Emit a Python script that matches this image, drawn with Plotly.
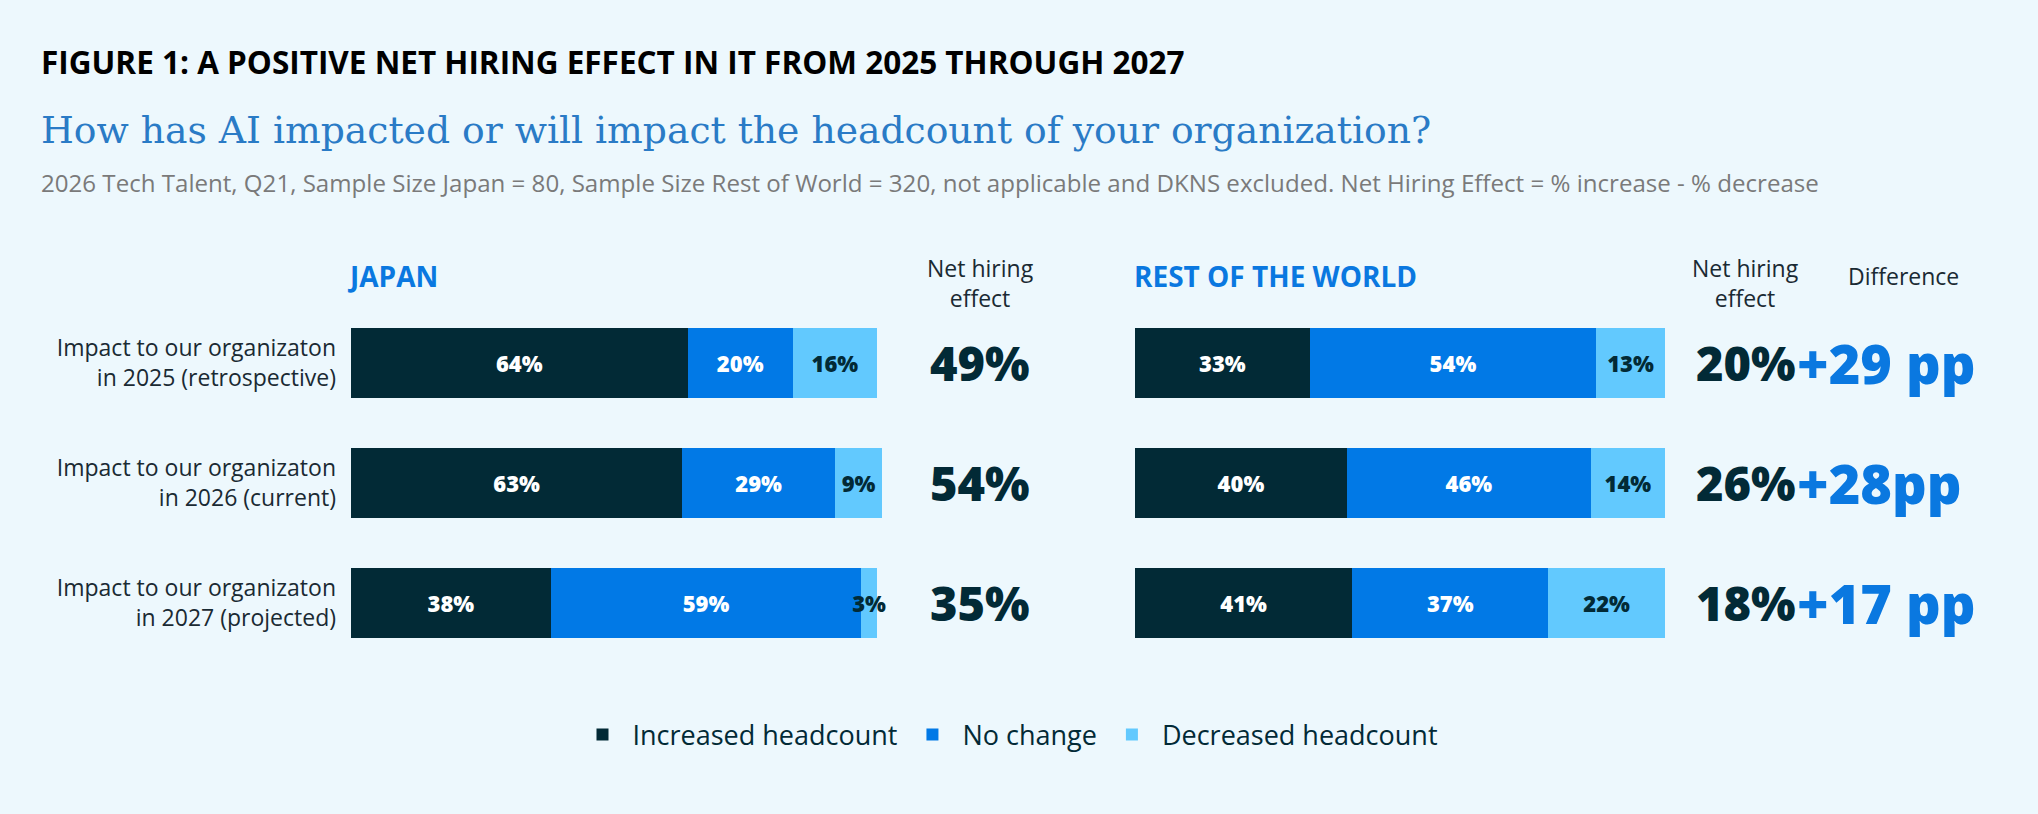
import plotly.graph_objects as go

# data
rows = [
    "Impact to our organizaton<br>in 2025 (retrospective)",
    "Impact to our organizaton<br>in 2026 (current)",
    "Impact to our organizaton<br>in 2027 (projected)",
]
series = ["Increased headcount", "No change", "Decreased headcount"]
japan_increased = [64, 63, 38]
japan_nochange = [20, 29, 59]
japan_decreased = [16, 9, 3]
row_increased = [33, 40, 41]
row_nochange = [54, 46, 37]
row_decreased = [13, 14, 22]
japan_net = ["49%", "54%", "35%"]
row_net = ["20%", "26%", "18%"]
difference = ["+29 pp", "+28pp", "+17 pp"]

colors = ["#022a36", "#0179e6", "#62c9fe"]
text_colors = ["white", "white", "#022a36"]
BG = "#edf8fd"
FONT = "Open Sans"

fig = go.Figure()

japan = [japan_increased, japan_nochange, japan_decreased]
world = [row_increased, row_nochange, row_decreased]
for i, name in enumerate(series):
    fig.add_trace(go.Bar(
        y=rows, x=japan[i], orientation="h", name=name,
        marker=dict(color=colors[i], line=dict(width=0)),
        text=[f"{v}%" for v in japan[i]], textposition="inside", textangle=0,
        insidetextanchor="middle", cliponaxis=False,
        textfont=dict(family=FONT, size=22, color=text_colors[i], weight=800),
        xaxis="x", yaxis="y", hoverinfo="skip",
    ))
for i, name in enumerate(series):
    fig.add_trace(go.Bar(
        y=rows, x=world[i], orientation="h", name=name, showlegend=False,
        marker=dict(color=colors[i], line=dict(width=0)),
        text=[f"{v}%" for v in world[i]], textposition="inside", textangle=0,
        insidetextanchor="middle", cliponaxis=False,
        textfont=dict(family=FONT, size=22, color=text_colors[i], weight=800),
        xaxis="x2", yaxis="y", hoverinfo="skip",
    ))

ann = []
for r, jn, wn, d in zip(rows, japan_net, row_net, difference):
    ann.append(dict(x=0.4809, xref="paper", y=r, yref="y", text=jn, showarrow=False,
                    xanchor="center", yanchor="middle",
                    font=dict(family=FONT, size=47, color="#022a36", weight=800)))
    ann.append(dict(x=0.8567, xref="paper", y=r, yref="y", text=wn, showarrow=False,
                    xanchor="center", yanchor="middle",
                    font=dict(family=FONT, size=47, color="#022a36", weight=800)))
    ann.append(dict(x=0.8808, xref="paper", y=r, yref="y", text=d, showarrow=False,
                    xanchor="left", yanchor="middle",
                    font=dict(family=FONT, size=54, color="#0a78e0", weight=800)))

headers = [
    (0.0191, 0.925, "FIGURE 1: A POSITIVE NET HIRING EFFECT IN IT FROM 2025 THROUGH 2027",
     dict(family=FONT, size=31.5, color="#000000", weight="bold"), "left"),
    (0.0191, 0.840, "How has AI impacted or will impact the headcount of your organization?",
     dict(family="DejaVu Serif", size=37.7, color="#2a7bc6"), "left"),
    (0.0191, 0.7764, "2026 Tech Talent, Q21, Sample Size Japan = 80, Sample Size Rest of World = 320, "
     "not applicable and DKNS excluded. Net Hiring Effect = % increase - % decrease",
     dict(family=FONT, size=24.1, color="#7a7a7a"), "left"),
    (0.1695, 0.661, "JAPAN", dict(family=FONT, size=28, color="#0a78e0", weight="bold"), "left"),
    (0.5556, 0.661, "REST OF THE WORLD", dict(family=FONT, size=28, color="#0a78e0", weight="bold"), "left"),
    (0.4809, 0.6523, "Net hiring<br>effect", dict(family=FONT, size=23, color="#1a2a33"), "center"),
    (0.8567, 0.6523, "Net hiring<br>effect", dict(family=FONT, size=23, color="#1a2a33"), "center"),
    (0.9338, 0.661, "Difference", dict(family=FONT, size=23, color="#1a2a33"), "center"),
]
for x, y, t, f, a in headers:
    ann.append(dict(x=x, y=y, xref="paper", yref="paper", text=t, showarrow=False,
                    xanchor=a, yanchor="middle", font=f, align=a))

fig.update_layout(
    width=2038, height=814, autosize=False,
    margin=dict(l=0, r=0, t=0, b=0),
    paper_bgcolor=BG, plot_bgcolor=BG,
    barmode="stack", bargap=0.4167,
    uniformtext=dict(minsize=22, mode="show"),
    font=dict(family=FONT, color="#1a2a33"),
    # Japan 2026 adds up to 101 %, so leave room for it
    xaxis=dict(domain=[0.17223, 0.43292], range=[0, 101], visible=False, fixedrange=True),
    xaxis2=dict(domain=[0.55692, 0.81698], range=[0, 100], visible=False, anchor="y", fixedrange=True),
    yaxis=dict(domain=[0.18550, 0.62776], type="category", categoryarray=rows,
               range=[2.5, -0.5], showgrid=False, zeroline=False, showline=False,
               ticks="", ticklabelstandoff=14, fixedrange=True,
               tickfont=dict(family=FONT, size=23, color="#1a2a33")),
    legend=dict(orientation="h", x=0.4946, xanchor="center", y=0.097, yanchor="middle",
                font=dict(family=FONT, size=27, color="#022a36"), itemwidth=50,
                bgcolor="rgba(0,0,0,0)", traceorder="normal"),
    annotations=ann,
)

# page body has a default margin; drop it so the figure fills the window
fig.write_html("out.html", config={"displayModeBar": False},
               post_script="document.body.style.margin='0';"
               "document.body.style.background='%s';" % BG)
